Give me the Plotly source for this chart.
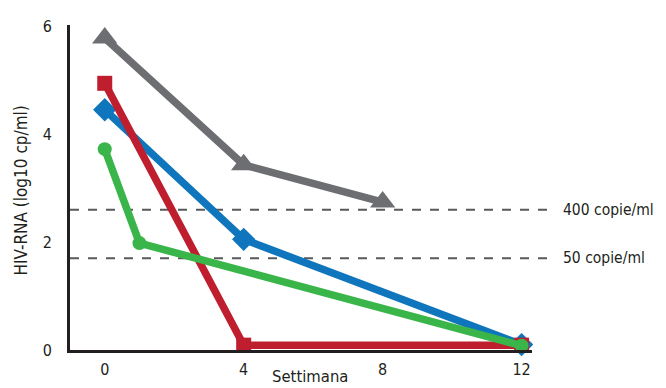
import plotly.graph_objects as go

weeks_gray = [0, 4, 8]
vals_gray = [5.78, 3.43, 2.74]
weeks_red = [0, 4, 12]
vals_red = [4.94, 0.09, 0.09]
weeks_blue = [0, 4, 12]
vals_blue = [4.45, 2.05, 0.1]
weeks_green = [0, 1, 12]
vals_green = [3.72, 1.98, 0.08]

thresholds = [2.6, 1.7]
threshold_labels = ["400 copie/ml", "50 copie/ml"]

x_ticks = [0, 4, 8, 12]
y_ticks = [0, 2, 4, 6]

FONT = "DejaVu Sans Condensed, DejaVu Sans, sans-serif"
TXT = "#231f20"

fig = go.Figure()

series = [
    (weeks_gray, vals_gray, "#6d6e71", "triangle-up", 22),
    (weeks_blue, vals_blue, "#0f75bc", "diamond", 18),
    (weeks_red, vals_red, "#be1e2d", "square", 15),
    (weeks_green, vals_green, "#39b54a", "circle", 14),
]
for xs, ys, col, sym, sz in series:
    fig.add_trace(go.Scatter(
        x=xs, y=ys, mode="lines+markers",
        line=dict(color=col, width=7.5),
        marker=dict(symbol=sym, size=sz, color=col),
        showlegend=False, hoverinfo="skip", cliponaxis=False,
    ))

for t, lab in zip(thresholds, threshold_labels):
    fig.add_shape(type="line", xref="paper", yref="y", x0=0, x1=1.05, y0=t, y1=t,
                  line=dict(color="#58595b", width=2, dash="dash"), layer="below")
    fig.add_annotation(xref="paper", yref="y", x=1.063, y=t, text=lab, showarrow=False,
                       xanchor="left", yanchor="middle",
                       font=dict(family=FONT, size=15.5, color=TXT))

fig.add_annotation(xref="paper", yref="paper", x=0.519, y=-0.082, text="Settimana",
                   showarrow=False, xanchor="center", yanchor="middle",
                   font=dict(family=FONT, size=16.5, color=TXT))
fig.add_annotation(xref="paper", yref="paper", x=-0.105, y=0.492, text="HIV-RNA (log10 cp/ml)",
                   showarrow=False, textangle=-90, xanchor="center", yanchor="middle",
                   font=dict(family=FONT, size=17, color=TXT))

fig.update_layout(
    width=658, height=380,
    margin=dict(l=62, r=134, t=17, b=38),
    paper_bgcolor="white", plot_bgcolor="white",
    font=dict(family=FONT, size=16, color=TXT),
    xaxis=dict(range=[-1, 12.3], tickvals=x_ticks, showgrid=False, zeroline=False,
               showline=True, linecolor="#231f20", linewidth=3, ticks="", automargin=False),
    yaxis=dict(range=[0, 6.02], tickvals=y_ticks, showgrid=False, zeroline=False,
               showline=True, linecolor="#231f20", linewidth=3, ticks="", automargin=False),
)
fig.update_xaxes(ticklabelstandoff=3)
fig.update_yaxes(ticklabelstandoff=12)

fig.write_html("out.html")
